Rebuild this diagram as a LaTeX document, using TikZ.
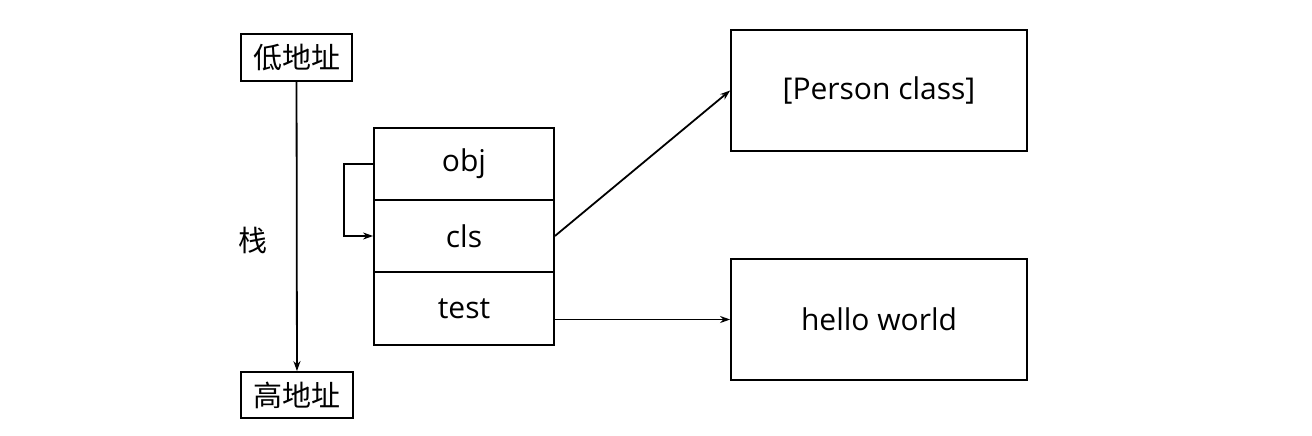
\documentclass[tikz,border=0pt]{standalone}
\usepackage{fontspec}
\setmainfont{Open Sans}
\newfontfamily\cjk{Noto Sans CJK SC}
\usetikzlibrary{arrows.meta}
\begin{document}
\begin{tikzpicture}[x=1pt,y=-1pt,
  box/.style={draw,line width=1.8pt,inner sep=0pt,font=\fontsize{30}{34}\selectfont},
  cjkbox/.style={draw,line width=1.8pt,inner sep=0pt,font=\cjk\fontsize{29}{32}\selectfont},
  conn/.style={line width=1.8pt,-{Stealth[length=10pt,width=7pt]}}]
\useasboundingbox (0,0) rectangle (1312,436);
\node[cjkbox,minimum width=111pt,minimum height=47pt] (low) at (296.5,57.5) {低地址};
\node[cjkbox,minimum width=112pt,minimum height=46pt] (high) at (297,395) {高地址};
\node[font=\cjk\fontsize{29}{32}\selectfont] (stk) at (253,240) {栈};
\node[box,minimum width=180pt,minimum height=72pt] (obj) at (464,164) {obj};
\node[box,minimum width=180pt,minimum height=72pt] (cls) at (464,236) {cls};
\node[box,minimum width=180pt,minimum height=73pt] (test) at (464,308.5) {test};
\node[box,minimum width=296pt,minimum height=121pt] (person) at (879,90.5) {[Person class]};
\node[box,minimum width=296pt,minimum height=121pt] (hello) at (879,319.5) {hello world};
\draw[conn] (low) -- (high);
\draw[conn] (obj.west) -- ++(-29,0) |- (cls.west);
\draw[conn] (cls.east) -- (person.west);
\draw[conn] (test.east |- hello.west) -- (hello.west);
\end{tikzpicture}
\end{document}
